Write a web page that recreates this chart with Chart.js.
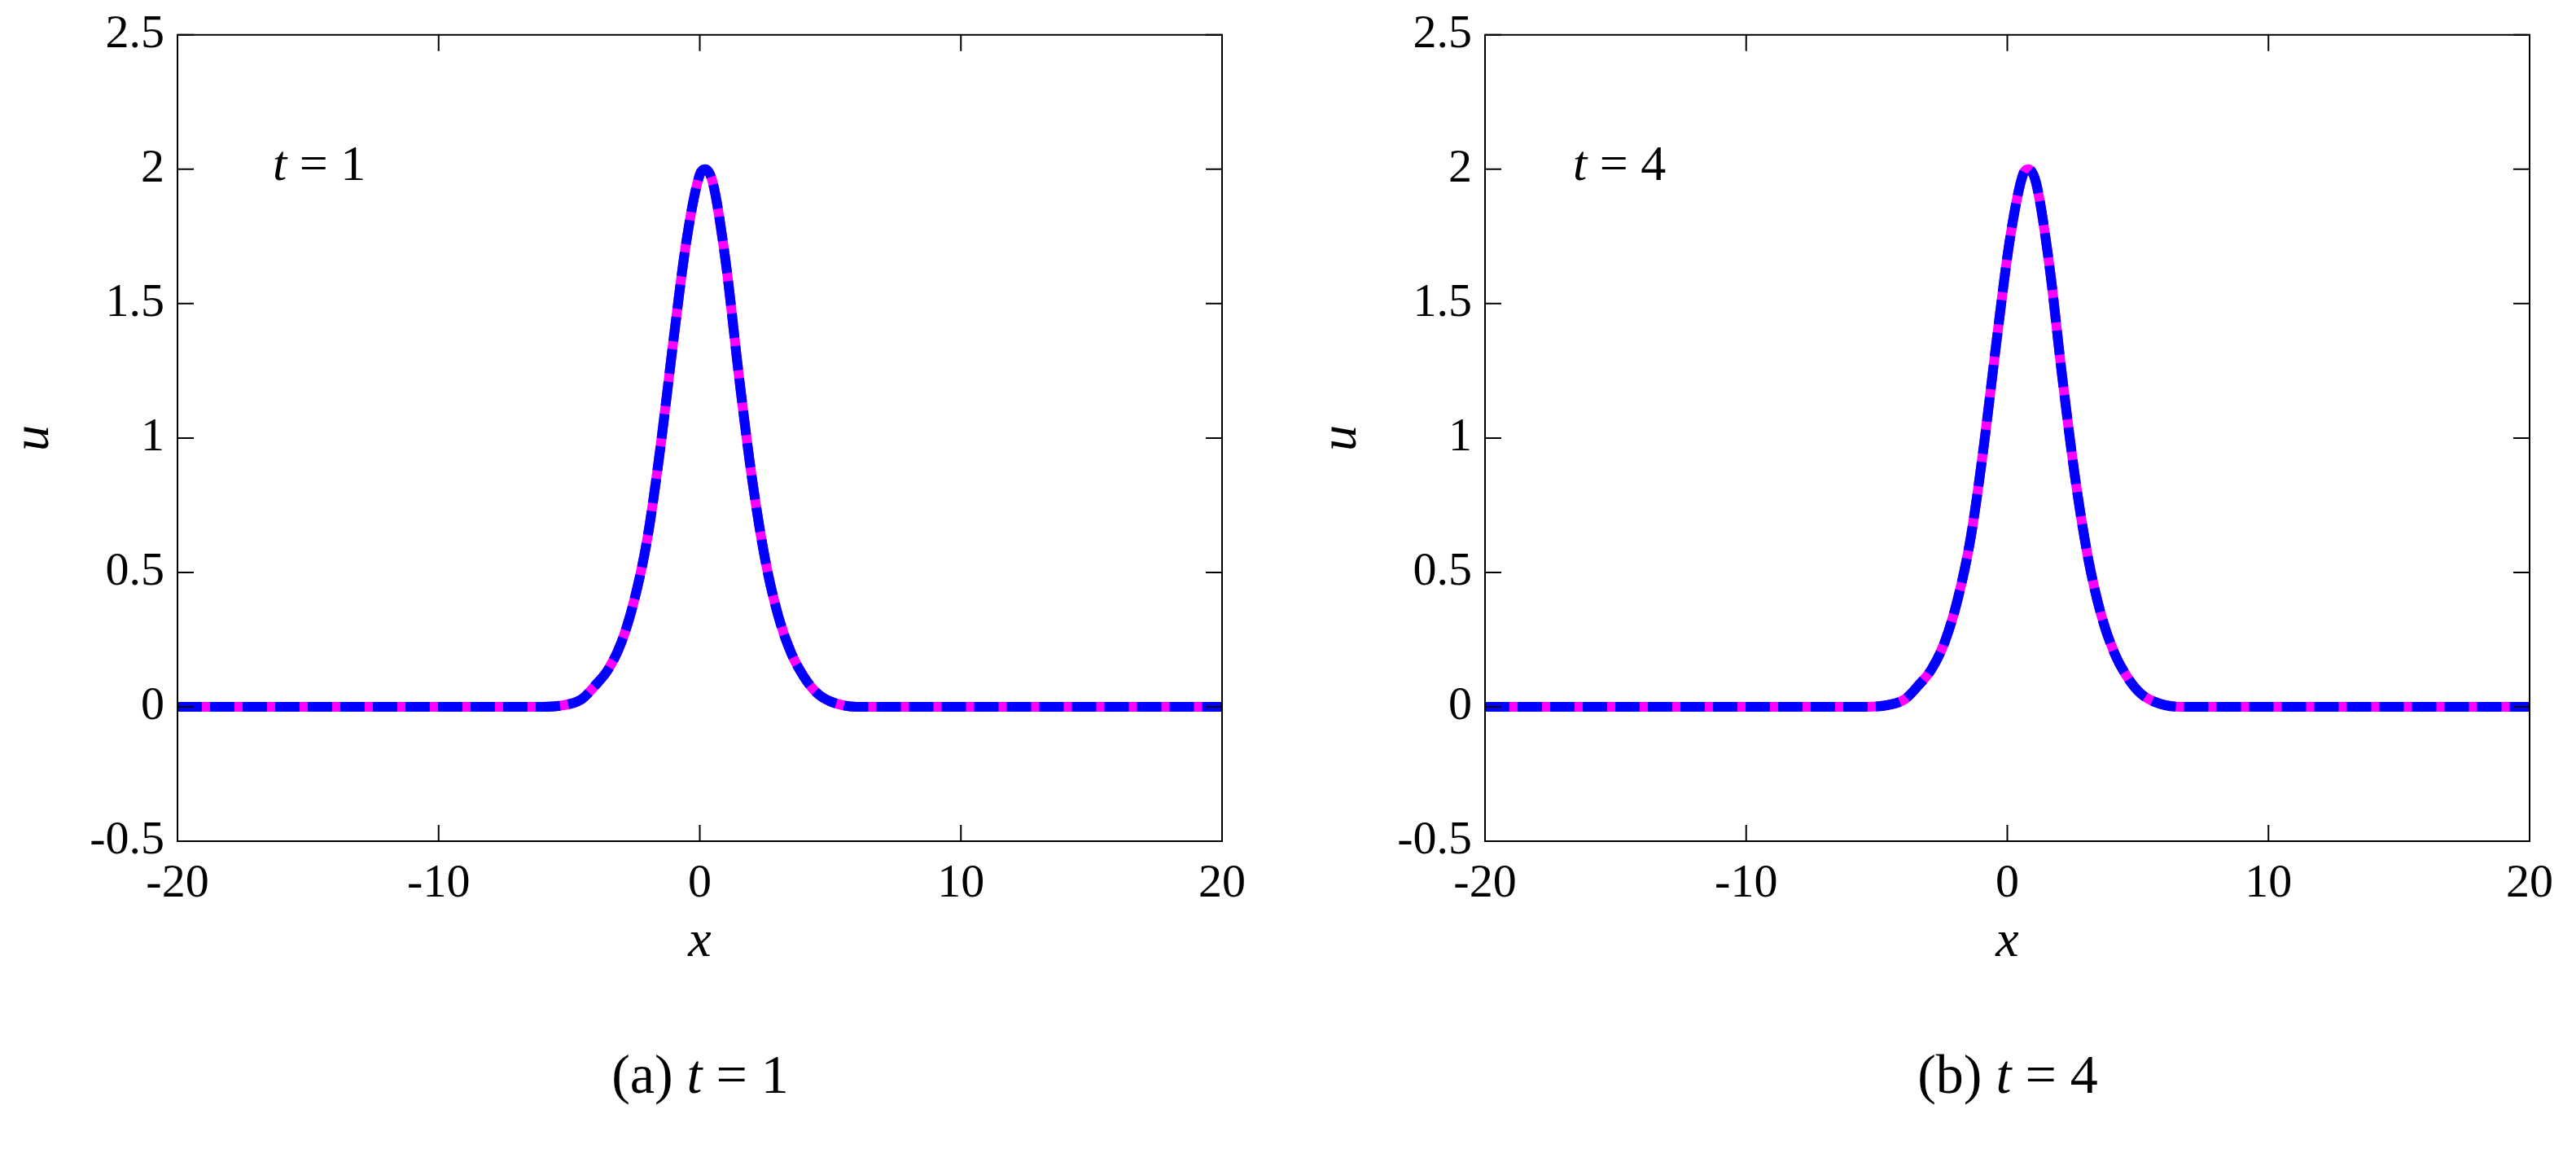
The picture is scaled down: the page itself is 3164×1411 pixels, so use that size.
<!DOCTYPE html>
<html><head><meta charset="utf-8">
<script src="https://cdn.jsdelivr.net/npm/chart.js@4"></script>
<style>
body{margin:0;background:#fff;width:3164px;height:1411px;position:relative;overflow:hidden;font-family:"Liberation Serif",serif}
.box{position:absolute;top:0;width:1582px;height:1200px}
.ann{position:absolute;font-size:62px;color:#000;white-space:nowrap}
.cap{position:absolute;top:1280px;font-size:68px;white-space:nowrap;transform:translateX(-50%)}
</style></head><body>
<div class="box" style="left:0"><canvas id="c1"></canvas></div>
<div class="box" style="left:1606px"><canvas id="c2"></canvas></div>
<div class="ann" style="left:335px;top:165px"><i>t</i> = 1</div>
<div class="ann" style="left:1932px;top:165px"><i>t</i> = 4</div>
<div class="cap" style="left:860px">(a) <i>t</i> = 1</div>
<div class="cap" style="left:2466px">(b) <i>t</i> = 4</div>
<script>
const xTicks=[-20,-10,0,10,20];
const yTicks=[-0.5,0,0.5,1,1.5,2,2.5];
const x1=[-20,-6,-5,-4.5,-4,-3.5,-3,-2.5,-2,-1.5,-1,-0.5,0,0.2,0.5,1,1.5,2,2.5,3,3.5,4,4.5,5,6,20];
const exact1=[0,0,0.01,0.03,0.08,0.14,0.24,0.40,0.63,0.97,1.37,1.74,1.98,2.0,1.95,1.65,1.23,0.85,0.55,0.34,0.20,0.11,0.05,0.02,0,0];
const num1=[0,0,0.01,0.03,0.08,0.14,0.24,0.40,0.63,0.97,1.37,1.74,1.98,2.0,1.95,1.65,1.23,0.85,0.55,0.34,0.20,0.11,0.05,0.02,0,0];
const x2=[-20,-5.4,-4.4,-3.9,-3.4,-2.9,-2.4,-1.9,-1.4,-0.9,-0.4,0.1,0.6,0.8,1.1,1.6,2.1,2.6,3.1,3.6,4.1,4.6,5.1,5.6,6.6,20];
const exact2=[0,0,0.01,0.03,0.08,0.14,0.24,0.40,0.63,0.97,1.37,1.74,1.98,2.0,1.95,1.65,1.23,0.85,0.55,0.34,0.20,0.11,0.05,0.02,0,0];
const num2=[0,0,0.01,0.03,0.08,0.14,0.24,0.40,0.63,0.97,1.37,1.74,1.98,2.0,1.95,1.65,1.23,0.85,0.55,0.34,0.20,0.11,0.05,0.02,0,0];

const FAM="'Liberation Serif', 'Times New Roman', serif";
const frame={id:'frame',afterDraw(ch){
  const {ctx,chartArea:a,scales:{x,y}}=ch;ctx.save();ctx.strokeStyle='#000';ctx.lineWidth=2;
  ctx.strokeRect(a.left,a.top,a.right-a.left,a.bottom-a.top);
  const L=20;ctx.beginPath();
  xTicks.forEach(v=>{const p=x.getPixelForValue(v);ctx.moveTo(p,a.bottom);ctx.lineTo(p,a.bottom-L);ctx.moveTo(p,a.top);ctx.lineTo(p,a.top+L);});
  yTicks.forEach(v=>{const p=y.getPixelForValue(v);ctx.moveTo(a.left,p);ctx.lineTo(a.left+L,p);ctx.moveTo(a.right,p);ctx.lineTo(a.right-L,p);});
  ctx.stroke();ctx.restore();}};
function make(id,xs,ex,nu){
  const font={family:FAM,size:58};
  new Chart(document.getElementById(id),{type:'line',
   data:{datasets:[
    {label:'numerical',order:0,data:xs.map((v,i)=>({x:v,y:nu[i]})),borderColor:'#0000ff',borderWidth:12,borderDash:[30,10],pointRadius:0,cubicInterpolationMode:'monotone'},
    {label:'exact',order:1,data:xs.map((v,i)=>({x:v,y:ex[i]})),borderColor:'#ff00ff',borderWidth:12,pointRadius:0,cubicInterpolationMode:'monotone'}
   ]},
   options:{responsive:true,maintainAspectRatio:false,animation:false,
    layout:{padding:{top:40,right:81,left:0,bottom:0}},
    plugins:{legend:{display:false},tooltip:{enabled:false}},
    scales:{
     x:{type:'linear',min:-20,max:20,afterBuildTicks:s=>{s.ticks=xTicks.map(v=>({value:v}))},
        afterFit:s=>{s.height=167},
        grid:{display:false},border:{display:false},
        ticks:{color:'#000',font,padding:10,maxRotation:0,callback:v=>String(v)},
        title:{display:true,text:'x',color:'#000',font:{family:FAM,size:64,style:'italic'},padding:{top:0}}},
     y:{min:-0.5,max:2.5,afterBuildTicks:s=>{s.ticks=yTicks.map(v=>({value:v}))},
        afterFit:s=>{s.width=218},
        grid:{display:false},border:{display:false},
        ticks:{color:'#000',font,padding:8,callback:v=>String(v)},
        title:{display:true,text:'u',color:'#000',font:{family:FAM,size:64,style:'italic'},padding:{bottom:0}}}
    }},plugins:[frame]});
}
make('c1',x1,exact1,num1);
make('c2',x2,exact2,num2);
</script></body></html>
